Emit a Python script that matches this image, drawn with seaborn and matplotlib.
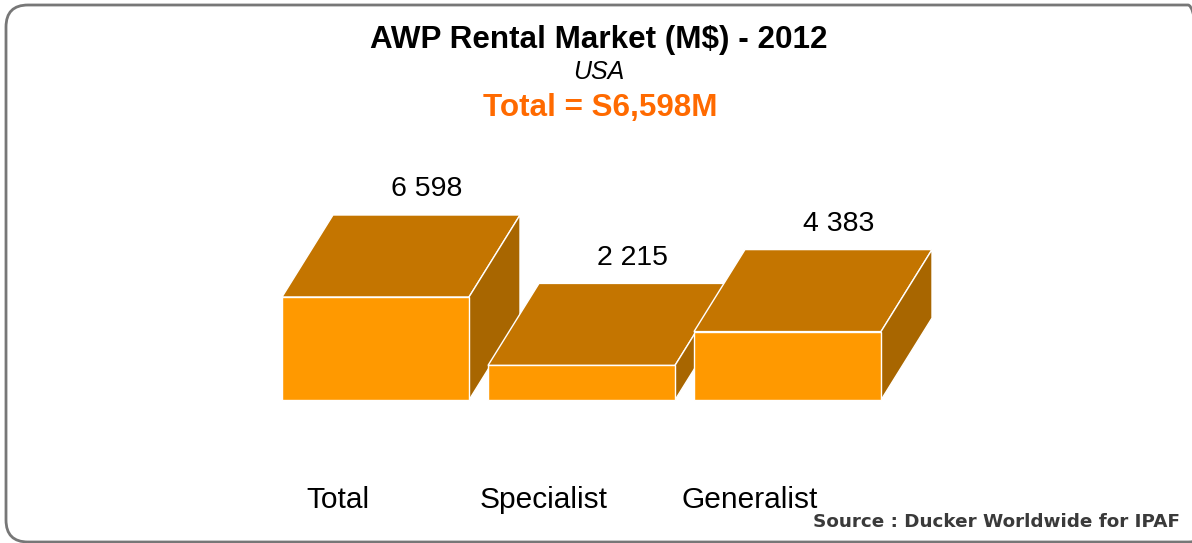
import numpy as np
import pandas as pd
import matplotlib
matplotlib.use("Agg")
import matplotlib.pyplot as plt
import seaborn as sns
from matplotlib.patches import Polygon, FancyBboxPatch
from matplotlib.transforms import IdentityTransform

# ---- data ----
categories = ["Total", "Specialist", "Generalist"]
values = [6598, 2215, 4383]
value_labels = ["6 598", "2 215", "4 383"]

title = "AWP Rental Market (M$) - 2012"
subtitle = "USA"
total_text = "Total = S6,598M"
source_text = "Source : Ducker Worldwide for IPAF"

# ---- style ----
W, H, DPI = 1192, 543, 100
FRONT = "#FF9900"
TOP = "#C47500"
SIDE = "#A86600"
ORANGE = "#FF6A00"
DX, DY = 51, 82          # 3D depth offset (pixels)
PX_PER_CAT = 206.0
X0_PX = 375.5            # pixel x of first category centre
BASE_FROM_TOP = 400      # pixel y (from top) of bar baseline
PX_PER_UNIT = 103.0 / 6598.0

sns.set_theme(style="white")
plt.rcParams['font.family'] = ['Liberation Sans', 'DejaVu Sans']

fig = plt.figure(figsize=(W / DPI, H / DPI), dpi=DPI)
fig.patch.set_facecolor("white")
ax = fig.add_axes([0, 0, 1, 1])

df = pd.DataFrame({"category": categories, "value": values})
sns.barplot(data=df, x="category", y="value", ax=ax, color=FRONT,
            saturation=1, width=187 / PX_PER_CAT, edgecolor="white", linewidth=1.0)

base_fig_y = H - BASE_FROM_TOP
ax.set_xlim(-X0_PX / PX_PER_CAT, (W - X0_PX) / PX_PER_CAT)
ax.set_ylim(-base_fig_y / PX_PER_UNIT, (H - base_fig_y) / PX_PER_UNIT)
ax.axis("off")

fig.canvas.draw()
ident = IdentityTransform()
for i, patch in enumerate(ax.patches):
    x0, y0 = patch.get_x(), patch.get_y()
    x1, y1 = x0 + patch.get_width(), y0 + patch.get_height()
    (px0, py0), (px1, py1) = ax.transData.transform([(x0, y0), (x1, y1)])
    top = Polygon([(px0, py1), (px1, py1), (px1 + DX, py1 + DY), (px0 + DX, py1 + DY)],
                  closed=True, facecolor=TOP, edgecolor="white", linewidth=1.0,
                  transform=ident, zorder=10 * i + 2)
    side = Polygon([(px1, py0), (px1, py1), (px1 + DX, py1 + DY), (px1 + DX, py0 + DY)],
                   closed=True, facecolor=SIDE, edgecolor="white", linewidth=1.0,
                   transform=ident, zorder=10 * i + 2)
    fig.add_artist(top)
    fig.add_artist(side)
    patch.set_zorder(10 * i + 3)
    xc = x0 + patch.get_width() / 2
    ax.annotate(value_labels[i], xy=(xc, values[i]), xytext=(DX, DY + 18.5),
                textcoords="offset pixels", ha="center", va="baseline",
                fontsize=20.5, color="black", zorder=50, annotation_clip=False)
    ax.annotate(categories[i], xy=(xc, 0), xytext=(-38, -108),
                textcoords="offset pixels", ha="center", va="baseline",
                fontsize=21.5, color="black", zorder=50, annotation_clip=False)

# move bar fronts to figure level so zorder interleaves with 3D faces
for i, patch in enumerate(list(ax.patches)):
    patch.remove()
    patch.set_transform(ax.transData)
    fig.add_artist(patch)

# ---- titles ----
fig.text(598.5 / W, 1 - 48 / H, title, ha="center", va="baseline",
         fontsize=22.6, fontweight="bold", color="black")
fig.text(598.5 / W, 1 - 79 / H, subtitle, ha="center", va="baseline",
         fontsize=18, fontstyle="italic", color="black")
fig.text(600 / W, 1 - 116 / H, total_text, ha="center", va="baseline",
         fontsize=22.6, fontweight="bold", color=ORANGE)
fig.text(1180 / W, 1 - 527 / H, source_text, ha="right", va="baseline",
         fontsize=13.2, fontweight="bold", color="#3a3a3a", family=["DejaVu Sans"])

# ---- rounded border ----
border = FancyBboxPatch((6, 1), 1204, 537, boxstyle="round,pad=0,rounding_size=22",
                        transform=ident, fill=False, edgecolor="#777777", linewidth=2.0,
                        zorder=100)
fig.add_artist(border)

fig.savefig("out.png", dpi=DPI, facecolor="white")
